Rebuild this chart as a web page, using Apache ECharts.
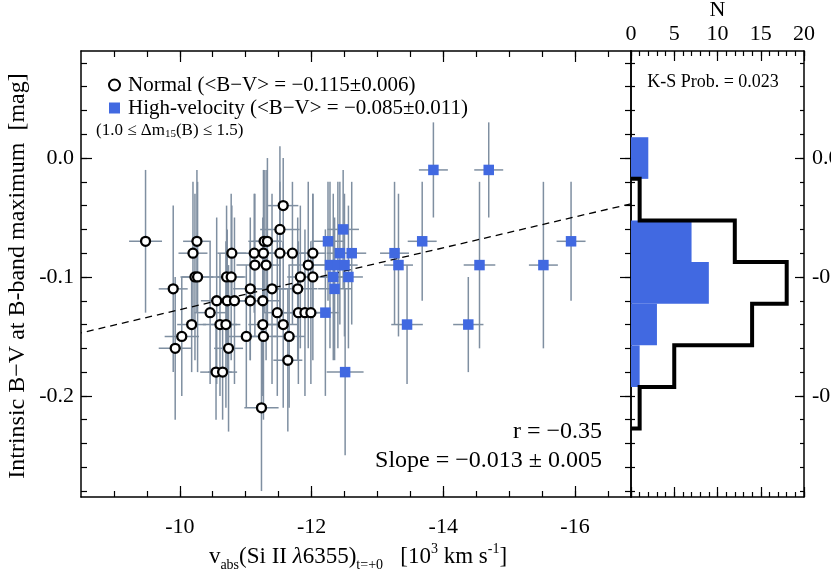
<!DOCTYPE html>
<html>
<head>
<meta charset="utf-8">
<title>B-V vs Si II velocity</title>
<script src="https://cdn.jsdelivr.net/npm/echarts@6.0.0/dist/echarts.min.js"></script>
<style>
  html, body { margin: 0; padding: 0; background: #fff; }
  #chart { width: 831px; height: 572px; }
</style>
</head>
<body>
<div id="chart"></div>
<script>
// normal-velocity SNe (open circles)
const normalVel = [-9.48, -10.26, -10.20, -11.57, -11.52, -11.28, -11.33, -10.79, -11.13, -11.27,
  -11.52, -11.71, -12.02, -11.14, -11.31, -11.95, -10.23, -10.27, -10.71, -10.78,
  -11.83, -12.02, -9.90, -11.07, -11.40, -11.79, -10.56, -10.72, -10.83, -11.07,
  -11.26, -10.46, -11.48, -11.80, -11.90, -11.99, -10.18, -10.61, -10.70, -11.26,
  -11.57, -10.03, -11.01, -11.27, -11.66, -9.93, -10.74, -11.64, -10.55, -10.65, -11.24];
const normalBV = [-0.07, -0.07, -0.08, -0.04, -0.06, -0.07, -0.07, -0.08, -0.08, -0.08,
  -0.08, -0.08, -0.08, -0.09, -0.09, -0.09, -0.10, -0.10, -0.10, -0.10,
  -0.10, -0.10, -0.11, -0.11, -0.11, -0.11, -0.12, -0.12, -0.12, -0.12,
  -0.12, -0.13, -0.13, -0.13, -0.13, -0.13, -0.14, -0.14, -0.14, -0.14,
  -0.14, -0.15, -0.15, -0.15, -0.15, -0.16, -0.16, -0.17, -0.18, -0.18, -0.21];
const normalVelErr = [0.25, 0.21, 0.22, 0.23, 0.30, 0.24, 0.22, 0.22, 0.26, 0.20,
  0.24, 0.22, 0.20, 0.28, 0.22, 0.30, 0.22, 0.24, 0.26, 0.22,
  0.20, 0.24, 0.22, 0.26, 0.22, 0.30, 0.24, 0.28, 0.20, 0.22,
  0.26, 0.24, 0.22, 0.28, 0.20, 0.24, 0.22, 0.26, 0.22, 0.22,
  0.24, 0.26, 0.28, 0.20, 0.24, 0.25, 0.22, 0.22, 0.24, 0.22, 0.26];
const normalBVErr = [0.06, 0.06, 0.06, 0.04, 0.07, 0.06, 0.07, 0.04, 0.05, 0.07,
  0.06, 0.06, 0.05, 0.06, 0.08, 0.07, 0.07, 0.08, 0.06, 0.07,
  0.06, 0.07, 0.07, 0.06, 0.08, 0.06, 0.07, 0.06, 0.07, 0.05,
  0.07, 0.06, 0.07, 0.06, 0.07, 0.06, 0.04, 0.06, 0.07, 0.06,
  0.07, 0.05, 0.06, 0.07, 0.06, 0.06, 0.07, 0.06, 0.04, 0.04, 0.07];

// high-velocity SNe (blue squares)
const hvVel = [-13.85, -14.69, -12.48, -12.25, -13.68, -15.94, -12.43, -12.61, -13.26, -12.28, -12.40,
  -12.50, -13.32, -14.55, -15.52, -12.33, -12.56, -12.35, -12.21, -13.45, -14.38, -12.51];
const hvBV = [-0.01, -0.01, -0.06, -0.07, -0.07, -0.07, -0.08, -0.08, -0.08, -0.09, -0.09,
  -0.09, -0.09, -0.09, -0.09, -0.10, -0.10, -0.11, -0.13, -0.14, -0.14, -0.18];
const hvVelErr = [0.22, 0.22, 0.24, 0.25, 0.22, 0.22, 0.20, 0.22, 0.22, 0.25, 0.20,
  0.20, 0.22, 0.24, 0.22, 0.20, 0.22, 0.25, 0.20, 0.24, 0.23, 0.28];
const hvBVErr = [0.04, 0.04, 0.05, 0.05, 0.05, 0.05, 0.06, 0.06, 0.06, 0.07, 0.07,
  0.06, 0.06, 0.07, 0.07, 0.07, 0.06, 0.06, 0.07, 0.05, 0.04, 0.07];

// B-V histogram (bin tops, 0.035 wide)
const binTops = [0.0175, -0.0175, -0.0525, -0.0875, -0.1225, -0.1575, -0.1925];
const binWidth = 0.035;
const normalCounts = [0, 1, 12, 18, 14, 5, 1];
const hvCounts = [2, 0, 7, 9, 3, 1, 0];

// linear fit
const fitSlope = -0.013;
const fitIntercept = -0.2575;

const velTicks = [-10, -12, -14, -16];
const bvTicks = [-0.2, -0.1, 0.0];
const countTicks = [0, 5, 10, 15, 20];

const velRange = [-16.85, -8.5];
const bvRange = [-0.285, 0.09];
const countMax = 20;

const serif = "'Liberation Serif', 'Times New Roman', serif";
const errColor = '#7f8fa1';
const blue = '#4169e1';

function steps(from, to, step) {
  const out = [];
  for (let v = from; v <= to + 1e-9; v += step) out.push(+v.toFixed(4));
  return out;
}
const velMinor = steps(-16.5, -9, 0.5);
const bvMinor = steps(-0.28, 0.08, 0.02);
const countMinor = steps(0, 20, 1);

function axis(gridIndex, position, range, ticks, len, opts) {
  opts = opts || {};
  const a = {
    type: 'value', gridIndex: gridIndex, position: position,
    min: range[0], max: range[1], inverse: !!opts.inverse,
    axisLine: { show: !!opts.line, onZero: false, lineStyle: { color: '#000', width: 1.5 } },
    axisTick: { show: true, inside: true, length: len, customValues: ticks,
      lineStyle: { color: '#000', width: 1.2 } },
    axisLabel: { show: false },
    splitLine: { show: false }
  };
  if (opts.labels) {
    a.axisLabel = { show: true, customValues: ticks, formatter: opts.labels, margin: opts.margin,
      color: '#000', fontSize: 22, fontFamily: serif };
  }
  return a;
}
const fmtBV = v => v.toFixed(1);
const fmtInt = v => String(v);

const xAxes = [
  axis(0, 'bottom', velRange, velTicks, 11, { inverse: true, line: true, labels: fmtInt, margin: 19 }),
  axis(0, 'top', velRange, velTicks, 11, { inverse: true, line: true }),
  axis(1, 'bottom', velRange, velMinor, 6, { inverse: true }),
  axis(1, 'top', velRange, velMinor, 6, { inverse: true }),
  axis(2, 'top', [0, countMax], countTicks, 10, { line: true, labels: fmtInt, margin: 6 }),
  axis(2, 'bottom', [0, countMax], countTicks, 10, { line: true }),
  axis(3, 'top', [0, countMax], countMinor, 5),
  axis(3, 'bottom', [0, countMax], countMinor, 5)
];
xAxes[4].name = 'N';
xAxes[4].nameLocation = 'middle';
xAxes[4].nameGap = 30;
xAxes[4].nameMoveOverlap = false;
xAxes[4].nameTextStyle = { color: '#000', fontSize: 22, fontFamily: serif };

const yAxes = [
  axis(0, 'left', bvRange, bvTicks, 11, { line: true, labels: fmtBV, margin: 7 }),
  axis(0, 'right', bvRange, bvTicks, 11, { line: true }),
  axis(1, 'left', bvRange, bvMinor, 6),
  axis(1, 'right', bvRange, bvMinor, 6),
  axis(2, 'left', bvRange, bvMinor, 4, { line: true }),
  axis(2, 'right', bvRange, bvTicks, 9, { line: true, labels: fmtBV, margin: 8 }),
  axis(3, 'right', bvRange, bvMinor, 4)
];

const mainRect = { left: 81, top: 51, width: 550, height: 446, outerBoundsMode: 'none', containLabel: false };
const histRect = { left: 631, top: 51, width: 173, height: 446, outerBoundsMode: 'none', containLabel: false };

function errorBars(params, api) {
  const x = api.value(0), y = api.value(1), ex = api.value(2), ey = api.value(3);
  const l = api.coord([x - ex, y]), r = api.coord([x + ex, y]);
  const t = api.coord([x, y + ey]), b = api.coord([x, y - ey]);
  const style = { stroke: errColor, lineWidth: 1.5 };
  return {
    type: 'group',
    children: [
      { type: 'line', shape: { x1: l[0], y1: l[1], x2: r[0], y2: r[1] }, style: style },
      { type: 'line', shape: { x1: t[0], y1: t[1], x2: b[0], y2: b[1] }, style: style }
    ]
  };
}

function histBar(params, api) {
  const c = api.value(0), top = api.value(1);
  if (!c) return null;
  const p0 = api.coord([0, top]);
  const p1 = api.coord([c, top - binWidth]);
  return {
    type: 'rect',
    shape: { x: p0[0], y: p0[1], width: p1[0] - p0[0], height: p1[1] - p0[1] },
    style: { fill: blue }
  };
}

// stepped outline of the normal histogram
const outline = [];
normalCounts.forEach((c, i) => {
  if (!c) return;
  if (!outline.length) outline.push([0, binTops[i]]);
  outline.push([c, binTops[i]], [c, binTops[i] - binWidth]);
});
outline.push([0, outline[outline.length - 1][1]]);

const normalRows = normalVel.map((v, i) => [v, normalBV[i], normalVelErr[i], normalBVErr[i]]);
const hvRows = hvVel.map((v, i) => [v, hvBV[i], hvVelErr[i], hvBVErr[i]]);
const fitLine = velRange.map(v => [v, fitIntercept + fitSlope * v]);

const normalName = 'Normal (<B\u2212V> = \u22120.115\u00b10.006)';
const hvName = 'High-velocity (<B\u2212V> = \u22120.085\u00b10.011)';

const chart = echarts.init(document.getElementById('chart'));
chart.setOption({
  animation: false,
  backgroundColor: '#fff',
  grid: [
    Object.assign({}, mainRect), Object.assign({}, mainRect),
    Object.assign({}, histRect), Object.assign({}, histRect)
  ],
  xAxis: xAxes,
  yAxis: yAxes,
  legend: {
    orient: 'vertical', left: 103, top: 69, itemWidth: 11, itemHeight: 11, itemGap: 1,
    selectedMode: false,
    data: [normalName, hvName],
    textStyle: { color: '#000', fontSize: 21, fontFamily: serif, lineHeight: 22, padding: [0, 0, 0, 3] }
  },
  graphic: [
    {
      type: 'text', x: 96, y: 131,
      style: {
        text: '(1.0 \u2264 \u0394m{s|15}(B) \u2264 1.5)',
        font: '17px ' + serif, fill: '#000', verticalAlign: 'middle',
        rich: { s: { fontSize: 11, fontFamily: serif, verticalAlign: 'bottom', lineHeight: 11 } }
      }
    },
    {
      type: 'text', x: 602, y: 432,
      style: { text: 'r = \u22120.35', font: '24px ' + serif, fill: '#000', align: 'right', verticalAlign: 'middle' }
    },
    {
      type: 'text', x: 602, y: 461,
      style: { text: 'Slope = \u22120.013 \u00b1 0.005', font: '24px ' + serif, fill: '#000', align: 'right', verticalAlign: 'middle' }
    },
    {
      type: 'text', x: 713, y: 82,
      style: { text: 'K-S Prob. = 0.023', font: '18px ' + serif, fill: '#000', align: 'center', verticalAlign: 'middle' }
    },
    {
      type: 'text', x: 358, y: 557,
      style: {
        text: '{n|v}{s|abs}{n|(Si II }{i|\u03bb}{n|6355)}{s|t=+0}{n|   [10}{u|3}{n| km s}{u|-1}{n|]}',
        align: 'center', verticalAlign: 'middle', fill: '#000',
        rich: {
          n: { fontSize: 23, fontFamily: serif, lineHeight: 30 },
          i: { fontSize: 23, fontFamily: serif, fontStyle: 'italic', lineHeight: 30 },
          s: { fontSize: 14, fontFamily: serif, lineHeight: 13, verticalAlign: 'bottom' },
          u: { fontSize: 14, fontFamily: serif, lineHeight: 13, verticalAlign: 'top' }
        }
      }
    },
    {
      type: 'text', x: 18, y: 276, rotation: Math.PI / 2,
      style: {
        text: 'Intrinsic B\u2212V at B-band maximum  [mag]',
        font: '24px ' + serif, fill: '#000', align: 'center', verticalAlign: 'middle'
      }
    }
  ],
  series: [
    {
      type: 'custom', name: 'normal errors', xAxisIndex: 0, yAxisIndex: 0, z: 1,
      renderItem: errorBars, data: normalRows, silent: true
    },
    {
      type: 'custom', name: 'hv errors', xAxisIndex: 0, yAxisIndex: 0, z: 1,
      renderItem: errorBars, data: hvRows, silent: true
    },
    {
      type: 'line', name: 'fit', xAxisIndex: 0, yAxisIndex: 0, z: 2,
      data: fitLine, showSymbol: false, symbol: 'none', silent: true,
      lineStyle: { color: '#000', width: 1.3, type: [7, 5] }
    },
    {
      type: 'scatter', name: normalName, xAxisIndex: 0, yAxisIndex: 0, z: 3,
      symbol: 'circle', symbolSize: 9,
      itemStyle: { color: '#fff', borderColor: '#000', borderWidth: 2.3, opacity: 1 },
      data: normalRows.map(r => [r[0], r[1]])
    },
    {
      type: 'scatter', name: hvName, xAxisIndex: 0, yAxisIndex: 0, z: 4,
      symbol: 'rect', symbolSize: 10.5,
      itemStyle: { color: blue, opacity: 1 },
      data: hvRows.map(r => [r[0], r[1]])
    },
    {
      type: 'custom', name: 'hv hist', xAxisIndex: 4, yAxisIndex: 4, z: 1,
      renderItem: histBar, data: hvCounts.map((c, i) => [c, binTops[i]]), silent: true
    },
    {
      type: 'line', name: 'normal hist', xAxisIndex: 4, yAxisIndex: 4, z: 2,
      data: outline, symbol: 'none', silent: true,
      lineStyle: { color: '#000', width: 4, join: 'miter' }
    }
  ]
});
window.addEventListener('resize', function () { chart.resize(); });
</script>
</body>
</html>
